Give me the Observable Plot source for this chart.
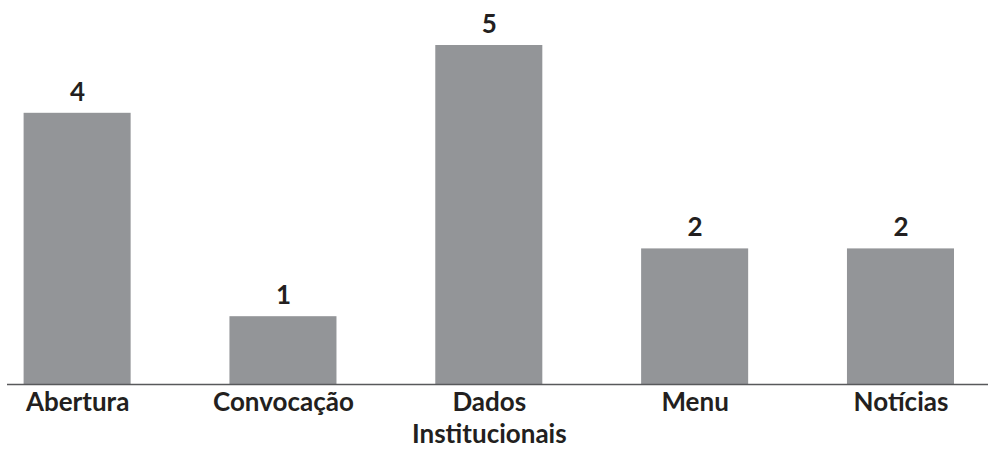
<!DOCTYPE html>
<html>
<head>
<meta charset="utf-8">
<script src="https://cdn.jsdelivr.net/npm/d3@7"></script>
<script src="https://cdn.jsdelivr.net/npm/@observablehq/plot@0.6"></script>
<style>
  html, body { margin: 0; padding: 0; background: #ffffff; }
</style>
</head>
<body>
<div id="chart"></div>
<script>
// Number of items per page section
const categories = ["Abertura", "Convocação", "Dados Institucionais", "Menu", "Notícias"];
const counts = [4, 1, 5, 2, 2];

const data = categories.map((category, i) => ({category, count: counts[i]}));

const ink = "#231f20";

const chart = Plot.plot({
  width: 989,
  height: 449,
  marginTop: 45,
  marginBottom: 65,
  marginLeft: 7,
  marginRight: 1,
  style: {fontFamily: "Lato", background: "#ffffff"},
  x: {domain: categories, range: [23.6, 954], paddingInner: 0.48, paddingOuter: 0, round: false, label: null},
  y: {domain: [0, 5], axis: null},
  marks: [
    Plot.barY(data, {x: "category", y: "count", fill: "#939598"}),
    Plot.ruleY([0], {stroke: "#58595b", strokeWidth: 1.5}),
    Plot.text(data, {
      x: "category", y: "count", text: d => String(d.count),
      dy: -21, fontSize: 26, fontWeight: "bold", fill: ink
    }),
    Plot.axisX({
      tickSize: 0, tickPadding: 3, fontSize: 26, fontWeight: "bold", fill: ink,
      lineHeight: 1.25,
      tickFormat: d => d.replace(" ", "\n")
    })
  ]
});

document.getElementById("chart").appendChild(chart);
</script>
</body>
</html>
